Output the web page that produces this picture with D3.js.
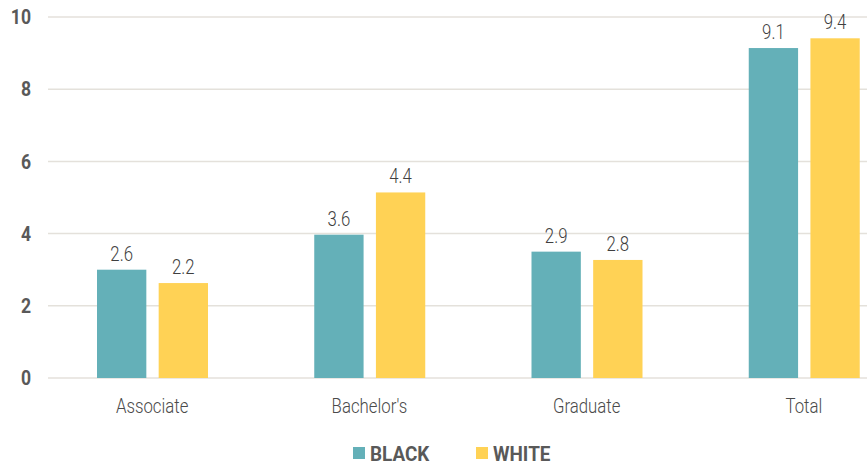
<!DOCTYPE html>
<html>
<head>
<meta charset="utf-8">
<script src="https://cdn.jsdelivr.net/npm/d3@7"></script>
<style>
  body { margin: 0; background: #fff; }
  text { font-family: "Roboto", "Liberation Sans", sans-serif; }
</style>
</head>
<body>
<div id="chart"></div>
<script>
const width = 867;
const height = 466;

// data: bar heights and the printed labels
const categories = ["Associate", "Bachelor's", "Graduate", "Total"];
const series = ["BLACK", "WHITE"];
const blackValues = [3.0, 3.97, 3.5, 9.14];
const whiteValues = [2.63, 5.14, 3.27, 9.41];
const blackLabels = ["2.6", "3.6", "2.9", "9.1"];
const whiteLabels = ["2.2", "4.4", "2.8", "9.4"];
const yTicks = [0, 2, 4, 6, 8, 10];

const colors = { "BLACK": "#64b0b8", "WHITE": "#ffd255" };
const squeeze = 0.84; // fake a condensed face

const svg = d3.select("#chart").append("svg")
    .attr("width", width)
    .attr("height", height);

const y = d3.scaleLinear().domain([0, 10]).range([378, 17]);
const x = d3.scaleBand().domain(categories).range([43.5, 912.5]);
const xInner = d3.scaleBand().domain(series).range([53.5, 164.5]).paddingInner(0.2);

// grid lines
svg.append("g").selectAll("line")
    .data(yTicks)
    .enter().append("line")
    .attr("x1", 48).attr("x2", width)
    .attr("y1", d => y(d)).attr("y2", d => y(d))
    .style("stroke", "#e4e1db")
    .style("stroke-width", 1.5);

// y tick labels
svg.append("g").selectAll("text")
    .data(yTicks)
    .enter().append("text")
    .attr("transform", d => `translate(31,${y(d)}) scale(0.88,1)`)
    .attr("dy", "0.36em")
    .attr("text-anchor", "end")
    .attr("font-size", "20px")
    .attr("font-weight", "bold")
    .attr("fill", "#595959")
    .text(d => d);

const rows = categories.map((c, i) => ({
    cat: c,
    bars: [
        { s: "BLACK", v: blackValues[i], label: blackLabels[i] },
        { s: "WHITE", v: whiteValues[i], label: whiteLabels[i] }
    ]
}));

const groups = svg.selectAll("g.grp")
    .data(rows)
    .enter().append("g")
    .attr("class", "grp")
    .attr("transform", d => `translate(${x(d.cat)},0)`);

groups.selectAll("rect")
    .data(d => d.bars)
    .enter().append("rect")
    .attr("x", d => xInner(d.s))
    .attr("width", xInner.bandwidth())
    .attr("y", d => y(d.v))
    .attr("height", d => y(0) - y(d.v))
    .attr("fill", d => colors[d.s]);

groups.selectAll("text.val")
    .data(d => d.bars)
    .enter().append("text")
    .attr("class", "val")
    .attr("transform", d => `translate(${xInner(d.s) + xInner.bandwidth() / 2},${y(d.v) - 9}) scale(${squeeze},1)`)
    .attr("text-anchor", "middle")
    .attr("font-size", "20px")
    .attr("font-weight", 300)
    .attr("fill", "#3f3f3f")
    .text(d => d.label);

// category labels
svg.append("g").selectAll("text")
    .data(categories)
    .enter().append("text")
    .attr("transform", d => `translate(${x(d) + x.bandwidth() / 2},413) scale(${squeeze},1)`)
    .attr("text-anchor", "middle")
    .attr("font-size", "20px")
    .attr("font-weight", 300)
    .attr("fill", "#4a4a4a")
    .text(d => d);

// legend
const legend = svg.append("g");
const legendX = [353, 476];
series.forEach((s, i) => {
    legend.append("rect")
        .attr("x", legendX[i]).attr("y", 447)
        .attr("width", 12).attr("height", 12)
        .attr("fill", colors[s]);
    legend.append("text")
        .attr("transform", `translate(${legendX[i] + 17},461) scale(0.9,1)`)
        .attr("font-size", "21px")
        .attr("font-weight", "bold")
        .attr("fill", "#595959")
        .text(s);
});
</script>
</body>
</html>
